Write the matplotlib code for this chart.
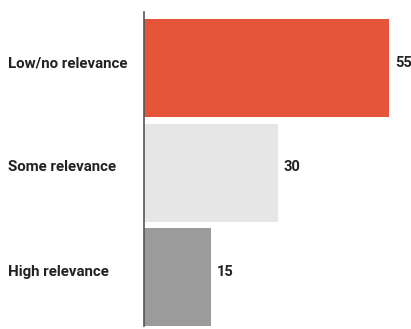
import matplotlib.pyplot as plt

categories = ['Low/no relevance', 'Some relevance', 'High relevance']
values = [55, 30, 15]
colors = ['#E5553A', '#E6E6E6', '#9B9B9B']

W, H = 411, 329
fig = plt.figure(figsize=(W / 100, H / 100), dpi=100)
ax = fig.add_axes([144 / W, 3 / H, (389 - 144) / W, (326 - 3 - 9) / H])

ypos = list(range(len(categories)))
ax.barh(ypos, values, height=0.94, color=colors)

ax.set_xlim(0, 55)
ax.set_ylim(2.47, -0.54)

for y, v in zip(ypos, values):
    ax.text(v + 1.3, y - 0.05, str(v), va='center', ha='left',
            fontsize=10.5, fontweight='bold', family='Roboto', color='#222222')

for y, c in zip(ypos, categories):
    ax.text(-30.5, y - 0.05, c, va='center', ha='left',
            fontsize=10.8, fontweight='bold', family='Roboto', color='#222222')

for s in ['top', 'right', 'bottom']:
    ax.spines[s].set_visible(False)
ax.spines['left'].set_color('#555555')
ax.spines['left'].set_linewidth(1.2)
ax.set_xticks([])
ax.set_yticks([])

fig.savefig('out.png', dpi=100)
